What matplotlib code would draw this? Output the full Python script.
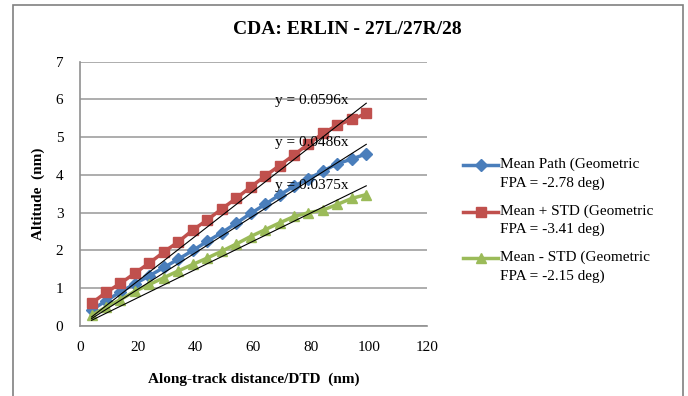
import matplotlib.pyplot as plt
import numpy as np
from matplotlib.patches import Rectangle
from matplotlib.lines import Line2D

plt.rcParams['font.family'] = ['Liberation Serif', 'DejaVu Serif']

distance = [4, 9, 14, 19, 24, 29, 34, 39, 44, 49,
            54, 59, 64, 69, 74, 79, 84, 89, 94, 99]
mean_path = [0.42, 0.67, 0.90, 1.12, 1.33, 1.55, 1.77, 2.00, 2.24, 2.47,
             2.72, 2.98, 3.22, 3.47, 3.70, 3.90, 4.10, 4.30, 4.42, 4.56]
mean_plus = [0.60, 0.89, 1.13, 1.40, 1.67, 1.96, 2.23, 2.54, 2.81, 3.10,
             3.38, 3.68, 3.97, 4.25, 4.53, 4.82, 5.10, 5.32, 5.47, 5.63]
mean_minus = [0.28, 0.50, 0.70, 0.92, 1.10, 1.28, 1.46, 1.63, 1.80, 1.98,
              2.17, 2.37, 2.55, 2.73, 2.90, 3.00, 3.07, 3.22, 3.38, 3.48]
labels = ['Mean Path (Geometric\nFPA = -2.78 deg)',
          'Mean + STD (Geometric\nFPA = -3.41 deg)',
          'Mean - STD (Geometric\nFPA = -2.15 deg)']
slopes = [0.0486, 0.0596, 0.0375]
label_y = [4.85, 5.97, 3.73]

W, H = 688, 396
fig = plt.figure(figsize=(6.88, 3.96), dpi=100)
ax = fig.add_axes([0.1163, 0.1768, 0.5043, 0.6674])

x = np.array(distance)
series = [(mean_path, '#4A7EBB', 'D', 6), (mean_plus, '#C0504D', 's', 7.5),
          (mean_minus, '#9BBB59', '^', 7)]
for (y, color, marker, ms), lab in zip(series, labels):
    ax.plot(x, y, color=color, marker=marker, markersize=ms, lw=2.5, zorder=3)

for s, ly in zip(slopes, label_y):
    ax.plot([x[0], x[-1]], [s * x[0], s * x[-1]], color='black', lw=0.8, zorder=4)
    ax.text(67.5, ly, 'y = %.4fx' % s, fontsize=11, va='center', ha='left', zorder=5)

ax.set_xlim(0, 120)
ax.set_ylim(0, 7)
ax.set_xticks(range(0, 121, 20))
ax.set_yticks(range(0, 8))
ax.tick_params(length=0, labelsize=11)
ax.tick_params(axis='x', pad=11)
ax.tick_params(axis='y', pad=12)
ax.grid(axis='y', color='#a0a0a0', lw=1.2)
ax.set_axisbelow(True)
for side in ['top', 'right']:
    ax.spines[side].set_visible(False)
for side in ['left', 'bottom']:
    ax.spines[side].set_color('#909090')
    ax.spines[side].set_linewidth(1.2)

ax.set_xlabel('Along-track distance/DTD  (nm)', fontsize=11, fontweight='bold', labelpad=13)
ax.set_ylabel('Altitude  (nm)', fontsize=11, fontweight='bold', labelpad=8)
fig.text(347.5 / W, 1 - 30 / H, 'CDA: ERLIN - 27L/27R/28', fontsize=14,
         fontweight='bold', ha='center', va='center')

# legend drawn by hand so the handle sits on the first text line
for i, ((y, color, marker, ms), lab) in enumerate(zip(series, labels)):
    yy = 1 - (165 + i * 46.5) / H
    fig.add_artist(Line2D([463 / W, 498 / W], [yy, yy], color=color, lw=2.5,
                          transform=fig.transFigure))
    fig.add_artist(Line2D([480.5 / W], [yy], color=color, marker=marker,
                          markersize=ms, transform=fig.transFigure))
    fig.text(500 / W, yy + 7 / H, lab, fontsize=11, ha='left', va='top',
             linespacing=1.45)

fig.patches.append(Rectangle((13 / W, -0.02), 670 / W, 1.02 - 5 / H,
                             transform=fig.transFigure, fill=False,
                             edgecolor='#808080', lw=1.2))

fig.savefig('out.png', dpi=100)
